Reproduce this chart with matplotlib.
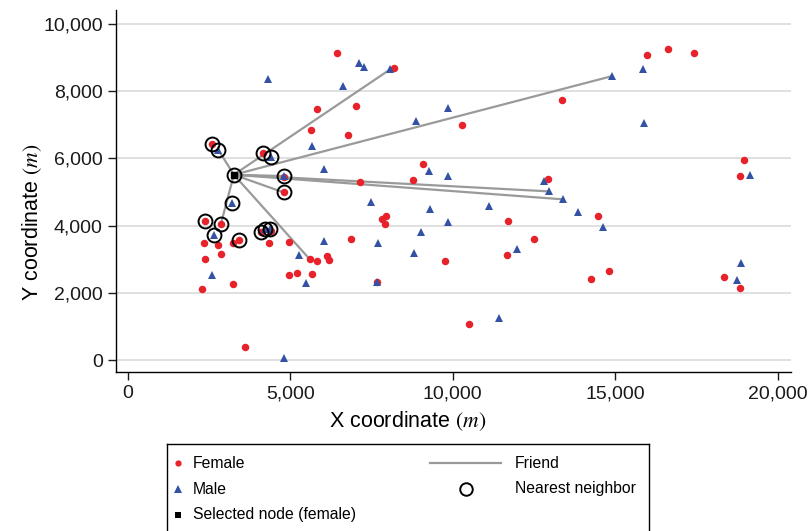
import matplotlib
matplotlib.use("Agg")
import matplotlib.pyplot as plt
from matplotlib.ticker import FuncFormatter, FixedLocator

plt.rcParams['font.family'] = ['Liberation Sans', 'DejaVu Sans']
plt.rcParams['mathtext.fontset'] = 'stix'

# ---- data (metres) ----
female_x = [6455, 5821, 5646, 6774, 7021, 8210, 10292, 13379, 9082, 8795, 7144, 12938,
            15995, 16641, 17421, 18969, 18846, 7954, 7841, 7913, 11698, 6877, 9769, 11677,
            12498, 7667, 10502, 14477, 14826, 14251, 18344, 18846,
            2590, 4160, 4805, 4805, 2375, 2868, 3431, 4100, 4420,
            2354, 2794, 3255, 4354, 4979, 2887, 2375, 3226, 2282, 3595,
            5606, 5821, 6138, 6210, 4979, 5206, 5686]
female_y = [9146, 7480, 6835, 6696, 7550, 8680, 7004, 7748, 5823, 5347, 5288, 5387,
            9077, 9246, 9146, 5942, 5486, 4276, 4196, 4048, 4127, 3611, 2946, 3135,
            3611, 2321, 1071, 4296, 2659, 2411, 2460, 2133,
            6429, 6152, 5456, 4988, 4147, 4048, 3571, 3800, 3840,
            3473, 3423, 3473, 3473, 3520, 3145, 3006, 2272, 2113, 397,
            2996, 2937, 3095, 2976, 2540, 2589, 2550]

male_x = [4323, 6620, 5686, 6046, 2794, 4415, 4805, 3215, 2662, 4230, 4390, 2610, 4805,
          5267, 6046, 5492, 7123, 7277, 8077, 8867, 9872, 9277, 9852, 12825, 12969,
          13410, 7503, 9308, 11133, 9862, 7698, 9031, 8805, 11995, 7667, 11441,
          14908, 15872, 15892, 19164, 13862, 14641, 18877, 18744]
male_y = [8363, 8164, 6369, 5675, 6250, 6051, 5476, 4663, 3720, 3900, 3900, 2540, 50,
          3115, 3532, 2292, 8849, 8730, 8651, 7103, 7510, 5615, 5466, 5317, 5020,
          4782, 4712, 4494, 4593, 4117, 3492, 3800, 3175, 3313, 2321, 1250,
          8452, 8651, 7063, 5516, 4405, 3968, 2877, 2381]

selected_x = [3267]
selected_y = [5516]

friend_x = [2794, 8077, 14908, 12969, 13410, 4805, 4805, 2868, 5606]
friend_y = [6250, 8651, 8452, 5020, 4782, 5476, 4988, 4048, 2996]

neighbor_x = [3267, 2590, 2794, 4160, 4415, 4805, 4805, 3215, 2375, 2868, 2662, 3431,
              4100, 4230, 4390]
neighbor_y = [5516, 6429, 6250, 6152, 6051, 5466, 4988, 4663, 4147, 4048, 3720, 3571,
              3800, 3900, 3900]

x_ticks = [0, 5000, 10000, 15000, 20000]
y_ticks = [0, 2000, 4000, 6000, 8000, 10000]

RED = '#e8222a'
BLUE = '#3352a4'
GRAY = '#9a9a9a'

W, H = 808, 531
fig = plt.figure(figsize=(W / 100, H / 100), dpi=100)
ax = fig.add_axes([116 / W, 1 - 372 / H, (791 - 116) / W, (372 - 10) / H])

# friend lines
for fx, fy in zip(friend_x, friend_y):
    ax.plot([selected_x[0], fx], [selected_y[0], fy], color=GRAY, lw=1.6, zorder=2)

ax.plot(female_x, female_y, 'o', color=RED, ms=5.4, mec=RED, mew=0, zorder=3)
ax.plot(male_x, male_y, '^', color=BLUE, ms=6.4, mec=BLUE, mew=0, zorder=4)
ax.plot(neighbor_x, neighbor_y, 'o', mfc='none', mec='black', ms=10, mew=1.4, zorder=5)
ax.plot(selected_x, selected_y, 's', color='black', ms=4.6, zorder=6)

ax.set_xlim(-360, 20415)
ax.set_ylim(-357, 10420)
ax.xaxis.set_major_locator(FixedLocator(x_ticks))
ax.yaxis.set_major_locator(FixedLocator(y_ticks))
fmt = FuncFormatter(lambda v, p: f"{int(v):,}")
ax.xaxis.set_major_formatter(fmt)
ax.yaxis.set_major_formatter(fmt)
ax.grid(axis='y', color='#dadada', lw=1.2, zorder=0)
ax.set_axisbelow(True)
for s in ['top', 'right']:
    ax.spines[s].set_visible(False)
for s in ['left', 'bottom']:
    ax.spines[s].set_linewidth(1.0)
ax.tick_params(axis='both', direction='out', length=5.5, width=1.0, labelsize=14,
               colors='#1a1a1a', pad=4)
ax.set_xlabel(r"X coordinate $(m)$", fontsize=15.5)
ax.set_ylabel(r"Y coordinate $(m)$", fontsize=15.5)
ax.xaxis.set_label_coords((408 - 116) / (791 - 116), -0.103)
ax.yaxis.set_label_coords(-0.106, (372 - 222) / (372 - 10))

# legend box
lx0, ly0, lx1, ly1 = 167, 444, 649, 540
lax = fig.add_axes([lx0 / W, 1 - ly1 / H, (lx1 - lx0) / W, (ly1 - ly0) / H])
lax.set_xlim(0, lx1 - lx0)
lax.set_ylim(ly1 - ly0, 0)
lax.set_xticks([])
lax.set_yticks([])
for s in lax.spines.values():
    s.set_linewidth(1.0)
fs = 11.3
lax.plot([11], [19], 'o', color=RED, ms=4.5, mew=0)
lax.text(26, 19, "Female", va='center', fontsize=fs)
lax.plot([11], [45], '^', color=BLUE, ms=5.2, mew=0)
lax.text(26, 45, "Male", va='center', fontsize=fs)
lax.plot([11], [71], 's', color='black', ms=4.2, mew=0)
lax.text(26, 71, "Selected node (female)", va='center', fontsize=fs)
lax.plot([263, 334], [19, 19], color=GRAY, lw=1.6)
lax.text(348, 19, "Friend", va='center', fontsize=fs)
lax.plot([299], [45], 'o', mfc='none', mec='black', ms=9, mew=1.4)
lax.text(348, 45, "Nearest neighbor", va='center', fontsize=fs)

fig.savefig("out.png", dpi=100)
